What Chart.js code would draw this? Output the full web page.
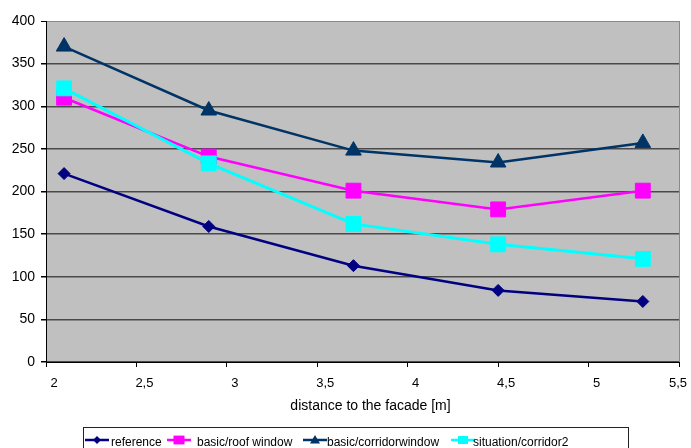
<!DOCTYPE html>
<html>
<head>
<meta charset="utf-8">
<script src="https://cdn.jsdelivr.net/npm/chart.js@4.4.0/dist/chart.umd.min.js"></script>
<style>
  html, body { margin: 0; padding: 0; background: #ffffff; }
  #wrap { width: 691px; height: 448px; }
</style>
</head>
<body>
<div id="wrap"><canvas id="c" width="691" height="448"></canvas></div>
<script>
// Measured distances and values per configuration
const distances = [2.1, 2.9, 3.7, 4.5, 5.3];
const referenceValues = [221, 159, 113, 84, 71];
const roofWindowValues = [310, 241, 201, 179, 201];
const corridorWindowValues = [370, 295, 248, 234, 257];
const corridor2Values = [321, 233, 162, 138, 121];

const seriesNames = ['reference', 'basic/roof window', 'basic/corridorwindow', 'situation/corridor2'];
const xTickLabels = ['2', '2,5', '3', '3,5', '4', '4,5', '5', '5,5'];
const yTickLabels = ['0', '50', '100', '150', '200', '250', '300', '350', '400'];
const axisTitle = 'distance to the facade [m]';

const FONT = '"Liberation Sans", Arial, sans-serif';

function toPoints(values) {
  return values.map((v, i) => ({ x: distances[i], y: v }));
}

// Grey plot area behind the grid, border on the right edge, axis title
const plotArea = {
  id: 'plotArea',
  beforeDraw(chart) {
    const { ctx, chartArea: a } = chart;
    // keep the last x label inside the canvas: centre it on its tick
    const xs = chart.scales.x;
    const items = xs.getLabelItems();
    if (items.length) {
      const last = items[items.length - 1];
      last.options.translation = [xs.getPixelForValue(xs.max) - 1, last.options.translation[1]];
    }
    ctx.save();
    ctx.fillStyle = '#c0c0c0';
    ctx.fillRect(a.left, a.top, a.right - a.left, a.bottom - a.top);
    ctx.restore();
  },
  afterDraw(chart) {
    const { ctx, chartArea: a } = chart;
    ctx.save();
    ctx.strokeStyle = '#8a8a8a';
    ctx.lineWidth = 1;
    ctx.beginPath();
    ctx.moveTo(Math.round(a.right) + 0.5, a.top);
    ctx.lineTo(Math.round(a.right) + 0.5, a.bottom);
    ctx.stroke();
    ctx.fillStyle = '#000';
    ctx.font = '14px ' + FONT;
    ctx.textAlign = 'center';
    ctx.textBaseline = 'middle';
    ctx.fillText(axisTitle, (a.left + a.right) / 2 + 8, a.bottom + 44);
    ctx.restore();
  }
};

function drawMarker(ctx, style, x, y, r, color) {
  ctx.fillStyle = color;
  ctx.beginPath();
  if (style === 'rectRot') {
    ctx.moveTo(x, y - r); ctx.lineTo(x + r, y); ctx.lineTo(x, y + r); ctx.lineTo(x - r, y);
  } else if (style === 'triangle') {
    ctx.moveTo(x, y - r); ctx.lineTo(x + r, y + r * 0.7); ctx.lineTo(x - r, y + r * 0.7);
  } else {
    ctx.rect(x - r, y - r * 0.8, 2 * r, 1.6 * r);
  }
  ctx.closePath();
  ctx.fill();
}

// Boxed legend along the bottom with line + marker samples
const boxLegend = {
  id: 'boxLegend',
  afterDraw(chart) {
    const { ctx } = chart;
    const sampleX = [85, 167, 303, 451];
    const textX = [111, 197, 327, 473];
    const markerR = [4, 5.5, 5, 5];
    ctx.save();
    ctx.strokeStyle = '#222';
    ctx.lineWidth = 1;
    ctx.strokeRect(83.5, 427.5, 545, 26);
    chart.data.datasets.forEach((ds, i) => {
      const y = 440;
      ctx.strokeStyle = ds.borderColor;
      ctx.lineWidth = 2.5;
      ctx.beginPath();
      ctx.moveTo(sampleX[i], y);
      ctx.lineTo(sampleX[i] + 24, y);
      ctx.stroke();
      drawMarker(ctx, ds.pointStyle, sampleX[i] + 12, y, markerR[i], ds.borderColor);
      ctx.fillStyle = '#000';
      ctx.font = '12px ' + FONT;
      ctx.textBaseline = 'middle';
      ctx.textAlign = 'left';
      ctx.fillText(ds.label, textX[i], 443);
    });
    ctx.restore();
  }
};

const datasets = [
  { label: seriesNames[0], data: toPoints(referenceValues), borderColor: '#000080', backgroundColor: '#000080',
    pointStyle: 'rectRot', pointRadius: 6, order: 3 },
  { label: seriesNames[1], data: toPoints(roofWindowValues), borderColor: '#ff00ff', backgroundColor: '#ff00ff',
    pointStyle: 'rect', pointRadius: 10.5, order: 2 },
  { label: seriesNames[2], data: toPoints(corridorWindowValues), borderColor: '#003366', backgroundColor: '#003366',
    pointStyle: 'triangle', pointRadius: 9, order: 1 },
  { label: seriesNames[3], data: toPoints(corridor2Values), borderColor: '#00ffff', backgroundColor: '#00ffff',
    pointStyle: 'rect', pointRadius: 10.5, borderWidth: 3, order: 0 }
].map(d => Object.assign({ borderWidth: 2.5, pointBorderWidth: 1, pointBorderColor: d.borderColor,
  pointBackgroundColor: d.borderColor, tension: 0, fill: false }, d));

new Chart(document.getElementById('c'), {
  type: 'line',
  data: { datasets },
  options: {
    responsive: false,
    animation: false,
    devicePixelRatio: 1,
    layout: { padding: { top: 21, right: 12, bottom: 34, left: 0 } },
    plugins: { legend: { display: false }, tooltip: { enabled: false } },
    scales: {
      x: {
        type: 'linear',
        min: 2,
        max: 5.5,
        afterFit(scale) {
          scale.height = 52;
          scale.paddingLeft = 0;
          scale.paddingRight = 0;
        },
        ticks: {
          stepSize: 0.5,
          autoSkip: false,
          maxRotation: 0,
          labelOffset: 8,
          padding: 9,
          color: '#000',
          font: { family: FONT, size: 13 },
          callback: (v, i) => xTickLabels[i]
        },
        grid: { drawOnChartArea: false, drawTicks: true, tickLength: 5, tickColor: '#000' },
        border: { color: '#000', width: 1 }
      },
      y: {
        min: 0,
        max: 400,
        afterFit(scale) {
          scale.width = 46;
          scale.paddingTop = 0;
          scale.paddingBottom = 0;
        },
        ticks: {
          stepSize: 50,
          padding: 6,
          color: '#000',
          font: { family: FONT, size: 14 },
          callback: (v, i) => yTickLabels[i]
        },
        grid: {
          color: ctx => (ctx.tick && ctx.tick.value === 400 ? '#8a8a8a' : '#4a4a4a'),
          lineWidth: ctx => (ctx.tick && ctx.tick.value === 400 ? 1 : 1.5),
          drawTicks: true,
          tickLength: 5,
          tickColor: '#000'
        },
        border: { color: '#000', width: 1 }
      }
    }
  },
  plugins: [plotArea, boxLegend]
});
</script>
</body>
</html>
